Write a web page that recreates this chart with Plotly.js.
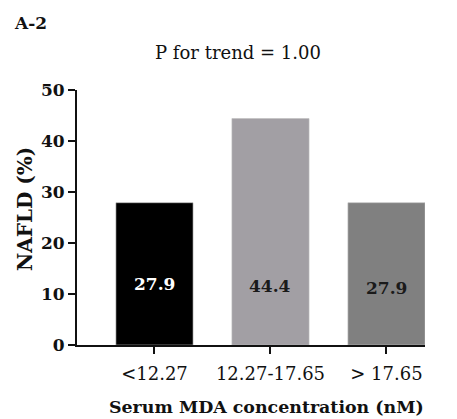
<!DOCTYPE html>
<html><head><meta charset="utf-8">
<script src="https://cdn.plot.ly/plotly-3.0.1.min.js"></script>
<style>body{margin:0;padding:0;background:#fff}#chart{width:457px;height:419px}</style>
</head><body><div id="chart"></div>
<script>
const categories = ["<12.27", "12.27-17.65", "> 17.65"];
const nafldPct = [27.9, 44.4, 27.9];
const barColors = ["#000000", "#a29fa4", "#808080"];
const labelColors = ["#ffffff", "#1a1a1a", "#1a1a1a"];
const labelLevels = [11.9, 11.6, 11.1];
const yTicks = [0, 10, 20, 30, 40, 50];
const panelLabel = "A-2";
const trendText = "P for trend = 1.00";
const xTitle = "Serum MDA concentration (nM)";
const yTitle = "NAFLD (%)";

const FONT = "'DejaVu Serif', 'Liberation Serif', serif";

const trace = {
  type: "bar",
  x: [0, 1, 2],
  y: nafldPct,
  width: 0.665,
  marker: {color: barColors, line: {color: "#bdbdbd", width: 0.6}},
  hoverinfo: "none"
};

const W = 457, H = 419, M = {l: 77, r: 32, t: 90, b: 74};
const px2paper = (x, y) => [(x - M.l) / (W - M.l - M.r), (H - M.b - y) / (H - M.t - M.b)];

const annotations = nafldPct.map((v, i) => ({
  x: i, y: labelLevels[i], xref: "x", yref: "y",
  text: "<b>" + v.toFixed(1) + "</b>", showarrow: false,
  font: {family: FONT, size: 17, color: labelColors[i]}
}));
function pxNote(x, y, text, size, anchor, angle) {
  const p = px2paper(x, y);
  annotations.push({
    x: p[0], y: p[1], xref: "paper", yref: "paper", xanchor: anchor, yanchor: "middle",
    text: text, showarrow: false, textangle: angle || 0,
    font: {family: FONT, size: size, color: "#111"}
  });
}
pxNote(12, 23, "<b>" + panelLabel + "</b>", 17, "left");
pxNote(237.5, 52, trendText, 18, "center");
pxNote(266, 407, "<b>" + xTitle + "</b>", 17.4, "center");
pxNote(25, 209, "<b>" + yTitle + "</b>", 20, "center", -90);

const layout = {
  width: W, height: H,
  margin: M,
  paper_bgcolor: "#fff", plot_bgcolor: "#fff",
  showlegend: false,
  font: {family: FONT, color: "#111"},
  xaxis: {
    range: [-0.668, 2.332],
    tickvals: [0, 1, 2], ticktext: categories,
    ticks: "outside", ticklen: 7, tickwidth: 2, tickcolor: "#111",
    ticklabelstandoff: 4,
    showline: true, linecolor: "#111", linewidth: 2,
    showgrid: false, zeroline: false,
    tickfont: {family: FONT, size: 18, color: "#111"}
  },
  yaxis: {
    range: [0, 50],
    tickvals: yTicks, ticktext: yTicks.map(v => "<b>" + v + "</b>"),
    ticks: "outside", ticklen: 7, tickwidth: 2, tickcolor: "#111",
    showline: true, linecolor: "#111", linewidth: 2,
    showgrid: false, zeroline: false,
    tickfont: {family: FONT, size: 17, color: "#111"}
  },
  annotations: annotations
};

Plotly.newPlot("chart", [trace], layout, {displayModeBar: false, staticPlot: true});
</script></body></html>
